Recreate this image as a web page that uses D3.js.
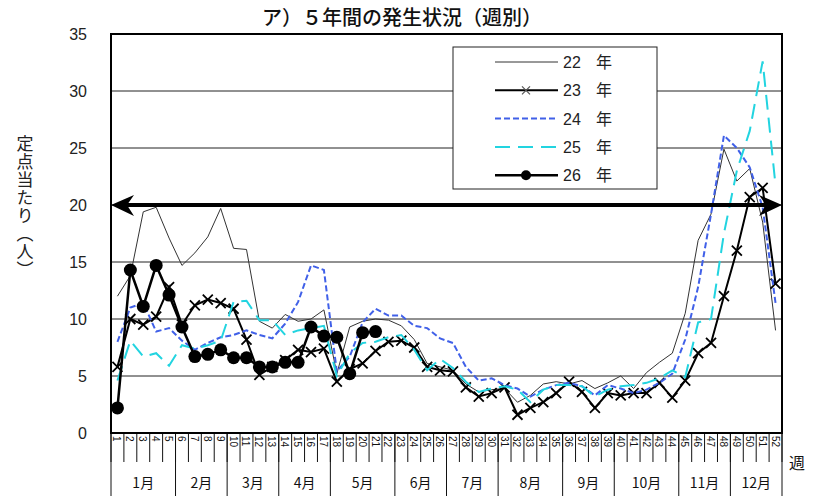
<!DOCTYPE html>
<html>
<head>
<meta charset="utf-8">
<script src="https://cdn.jsdelivr.net/npm/d3@7"></script>
<style>
  body { margin: 0; background: #fff; }
  svg { font-family: "Noto Sans CJK JP", "Liberation Sans", sans-serif; }
</style>
</head>
<body>
<svg id="chart" width="819" height="496"></svg>
<script>
// weeks 1..52
const weeks = d3.range(1, 53);
const monthNames = ["1月", "2月", "3月", "4月", "5月", "6月", "7月", "8月", "9月", "10月", "11月", "12月"];
// last week of each month
const monthEnds = [5, 9, 13, 17, 22, 26, 30, 35, 39, 44, 48, 52];
const yTicks = [0, 5, 10, 15, 20, 25, 30, 35];

const y22 = [12.0, 13.8, 19.4, 19.8, 17.1, 14.7, 15.8, 17.2, 19.7, 16.2, 16.1, 9.8, 9.2, 10.4, 9.8, 10.0, 10.8, 5.2, 9.3, 9.8,
  10.0, 9.9, 9.4, 8.2, 6.1, 5.8, 5.5, 4.3, 3.6, 3.8, 3.9, 2.7, 3.3, 4.3, 4.5, 4.3, 4.6, 3.9, 4.4, 5.0,
  3.9, 5.3, 6.2, 7.0, 10.5, 16.9, 19.2, 24.9, 22.1, 23.2, 18.5, 9.0];
const y23 = [5.8, 10.0, 9.5, 10.2, 12.8, 9.5, 11.2, 11.7, 11.4, 10.9, 8.2, 5.1, 5.8, 6.4, 7.3, 7.1, 7.4, 4.5, 5.6, 6.1,
  7.2, 8.0, 8.1, 7.5, 5.8, 5.5, 5.4, 4.0, 3.2, 3.5, 4.0, 1.6, 2.2, 2.7, 3.5, 4.5, 3.6, 2.2, 3.5, 3.3,
  3.5, 3.5, 4.4, 3.1, 4.6, 7.0, 7.9, 12.0, 16.0, 20.7, 21.5, 13.1];
const y24 = [8.0, 11.0, 11.4, 8.9, 9.2, 8.1, 7.3, 7.9, 8.4, 8.6, 9.0, 8.6, 8.3, 9.6, 11.5, 14.7, 14.3, 5.4, 6.7, 9.7,
  10.9, 10.3, 10.3, 9.4, 9.2, 8.3, 7.9, 5.8, 4.6, 4.8, 4.2, 3.9, 3.2, 3.8, 4.2, 4.4, 4.1, 3.3, 4.2, 3.9,
  3.5, 3.8, 4.4, 5.2, 8.2, 12.8, 19.2, 26.1, 25.0, 23.3, 19.8, 11.4];
const y25 = [4.6, 8.1, 6.7, 7.0, 5.9, 7.7, 7.4, 7.7, 8.1, 11.5, 11.6, 9.9, 9.9, 8.6, 9.0, 9.2, 9.4, 5.0, 7.0, 7.9,
  8.0, 8.4, 8.6, 7.3, 5.5, 6.5, 5.7, 4.5, 3.6, 3.9, 4.1, 3.8, 2.7, 3.8, 4.2, 4.2, 4.1, 3.2, 3.8, 4.1,
  4.2, 4.4, 4.8, 5.5, 4.9, 9.7, 10.0, 17.5, 23.0, 26.5, 32.6, 21.7];
const y26 = [2.2, 14.3, 11.1, 14.7, 12.1, 9.3, 6.7, 6.9, 7.3, 6.6, 6.6, 5.8, 5.8, 6.2, 6.2, 9.3, 8.5, 8.4, 5.2, 8.8, 8.9];

const width = 819, height = 496;
const margin = { left: 111, right: 37, top: 34, bottom: 63 };
const plotW = width - margin.left - margin.right;
const plotH = height - margin.top - margin.bottom;

const svg = d3.select("#chart");
const g = svg.append("g").attr("transform", `translate(${margin.left},${margin.top})`);

const x = d3.scaleBand().domain(weeks).range([0, plotW]).padding(0);
const y = d3.scaleLinear().domain([0, 35]).range([plotH, 0]);
const cx = w => x(w) + x.bandwidth() / 2;

// gridlines
g.selectAll(".grid")
  .data(yTicks.filter(t => t > 0 && t < 35))
  .enter().append("line")
  .attr("x1", 0).attr("x2", plotW)
  .attr("y1", d => y(d)).attr("y2", d => y(d))
  .attr("stroke", "#222").attr("stroke-width", 1);

// y labels
g.selectAll(".ylab")
  .data(yTicks)
  .enter().append("text")
  .attr("x", -24)
  .attr("y", d => y(d))
  .attr("dy", "0.35em")
  .attr("text-anchor", "end")
  .style("font-size", "16px")
  .style("font-family", "Liberation Sans, sans-serif")
  .attr("fill", "#222")
  .text(d => d);

// y title (vertical)
svg.append("text")
  .attr("x", 25).attr("y", 135)
  .style("writing-mode", "vertical-rl")
  .style("font-size", "17px")
  .style("letter-spacing", "1px")
  .attr("fill", "#222")
  .text("定点当たり（人）");

// title
svg.append("text")
  .attr("x", 402).attr("y", 25)
  .attr("text-anchor", "middle")
  .style("font-size", "20px")
  .style("font-weight", "500")
  .attr("fill", "#111")
  .text("ア）５年間の発生状況（週別）");

// x axis: week ticks and labels
const axis = g.append("g").attr("transform", `translate(0,${plotH})`);
axis.selectAll(".wtick")
  .data(d3.range(0, 53))
  .enter().append("line")
  .attr("x1", d => d * x.bandwidth()).attr("x2", d => d * x.bandwidth())
  .attr("y1", 0).attr("y2", 29)
  .attr("stroke", "#111").attr("stroke-width", 1);

axis.selectAll(".wlab")
  .data(weeks)
  .enter().append("text")
  .attr("transform", d => `translate(${cx(d) - 4},3) rotate(90)`)
  .style("font-size", "10px")
  .style("font-family", "Liberation Sans, sans-serif")
  .attr("fill", "#111")
  .text(d => d);

// month separators and labels
const monthStarts = [0].concat(monthEnds.slice(0, -1));
axis.selectAll(".msep")
  .data([0].concat(monthEnds))
  .enter().append("line")
  .attr("x1", d => d * x.bandwidth()).attr("x2", d => d * x.bandwidth())
  .attr("y1", 0).attr("y2", 63)
  .attr("stroke", "#111").attr("stroke-width", 1);

axis.selectAll(".mlab")
  .data(monthNames)
  .enter().append("text")
  .attr("x", (d, i) => (monthStarts[i] + monthEnds[i]) / 2 * x.bandwidth())
  .attr("y", 50)
  .attr("dy", "0.35em")
  .attr("text-anchor", "middle")
  .style("font-size", "14px")
  .attr("fill", "#111")
  .text(d => d);

svg.append("text")
  .attr("x", 797).attr("y", 463)
  .attr("dy", "0.35em")
  .attr("text-anchor", "middle")
  .style("font-size", "16px")
  .attr("fill", "#111")
  .text("週");

// series
const line = d3.line().x((d, i) => cx(i + 1)).y(d => y(d));

g.append("path").datum(y22).attr("d", line)
  .attr("fill", "none").attr("stroke", "#333").attr("stroke-width", 1);

g.append("path").datum(y23).attr("d", line)
  .attr("fill", "none").attr("stroke", "#000").attr("stroke-width", 2);
g.selectAll(".xm")
  .data(y23)
  .enter().append("path")
  .attr("d", (d, i) => {
    const px = cx(i + 1), py = y(d), s = 5;
    return `M${px - s},${py - s}L${px + s},${py + s}M${px - s},${py + s}L${px + s},${py - s}`;
  })
  .attr("stroke", "#000").attr("stroke-width", 1.8);

g.append("path").datum(y24).attr("d", line)
  .attr("fill", "none").attr("stroke", "#4060e8").attr("stroke-width", 2)
  .attr("stroke-dasharray", "6,3");

g.append("path").datum(y25).attr("d", line)
  .attr("fill", "none").attr("stroke", "#22d4e0").attr("stroke-width", 2)
  .attr("stroke-dasharray", "15,8");

g.append("path").datum(y26).attr("d", line)
  .attr("fill", "none").attr("stroke", "#000").attr("stroke-width", 2.5);
g.selectAll(".dot")
  .data(y26)
  .enter().append("circle")
  .attr("cx", (d, i) => cx(i + 1))
  .attr("cy", d => y(d))
  .attr("r", 6.5)
  .attr("fill", "#000");

// 20 threshold double arrow
const ay = y(20);
g.append("line")
  .attr("x1", 12).attr("x2", plotW - 12)
  .attr("y1", ay).attr("y2", ay)
  .attr("stroke", "#000").attr("stroke-width", 4);
g.append("path")
  .attr("d", `M0,${ay}L23,${ay - 10}L16,${ay}L23,${ay + 11}Z`)
  .attr("fill", "#000");
g.append("path")
  .attr("d", `M${plotW},${ay}L${plotW - 23},${ay - 10}L${plotW - 16},${ay}L${plotW - 23},${ay + 11}Z`)
  .attr("fill", "#000");

// plot border
g.append("rect")
  .attr("width", plotW).attr("height", plotH)
  .attr("fill", "none").attr("stroke", "#000").attr("stroke-width", 2);

// legend
const legend = svg.append("g").attr("transform", "translate(453,47)");
legend.append("rect")
  .attr("width", 204).attr("height", 142)
  .attr("fill", "#fff").attr("stroke", "#222").attr("stroke-width", 1);

const legendItems = [
  { label: "22", color: "#333", w: 1, dash: null, mark: null },
  { label: "23", color: "#000", w: 2, dash: null, mark: "x" },
  { label: "24", color: "#4060e8", w: 2, dash: "6,3", mark: null },
  { label: "25", color: "#22d4e0", w: 2, dash: "15,8", mark: null },
  { label: "26", color: "#000", w: 2.5, dash: null, mark: "dot" }
];
const row = legend.selectAll(".row")
  .data(legendItems)
  .enter().append("g")
  .attr("transform", (d, i) => `translate(0,${15 + i * 28.3})`);
row.append("line")
  .attr("x1", 42).attr("x2", 105)
  .attr("stroke", d => d.color).attr("stroke-width", d => d.w)
  .attr("stroke-dasharray", d => d.dash);
row.filter(d => d.mark === "x").append("path")
  .attr("d", "M69,-4L77,4M69,4L77,-4")
  .attr("stroke", "#555").attr("stroke-width", 1.2);
row.filter(d => d.mark === "dot").append("circle")
  .attr("cx", 73).attr("r", 5).attr("fill", "#000");
row.append("text")
  .attr("x", 110).attr("dy", "0.38em")
  .style("font-size", "16px")
  .style("font-family", "Liberation Sans, sans-serif")
  .attr("fill", "#222")
  .text(d => d.label);
row.append("text")
  .attr("x", 143).attr("dy", "0.38em")
  .style("font-size", "16px")
  .attr("fill", "#222")
  .text("年");
</script>
</body>
</html>
